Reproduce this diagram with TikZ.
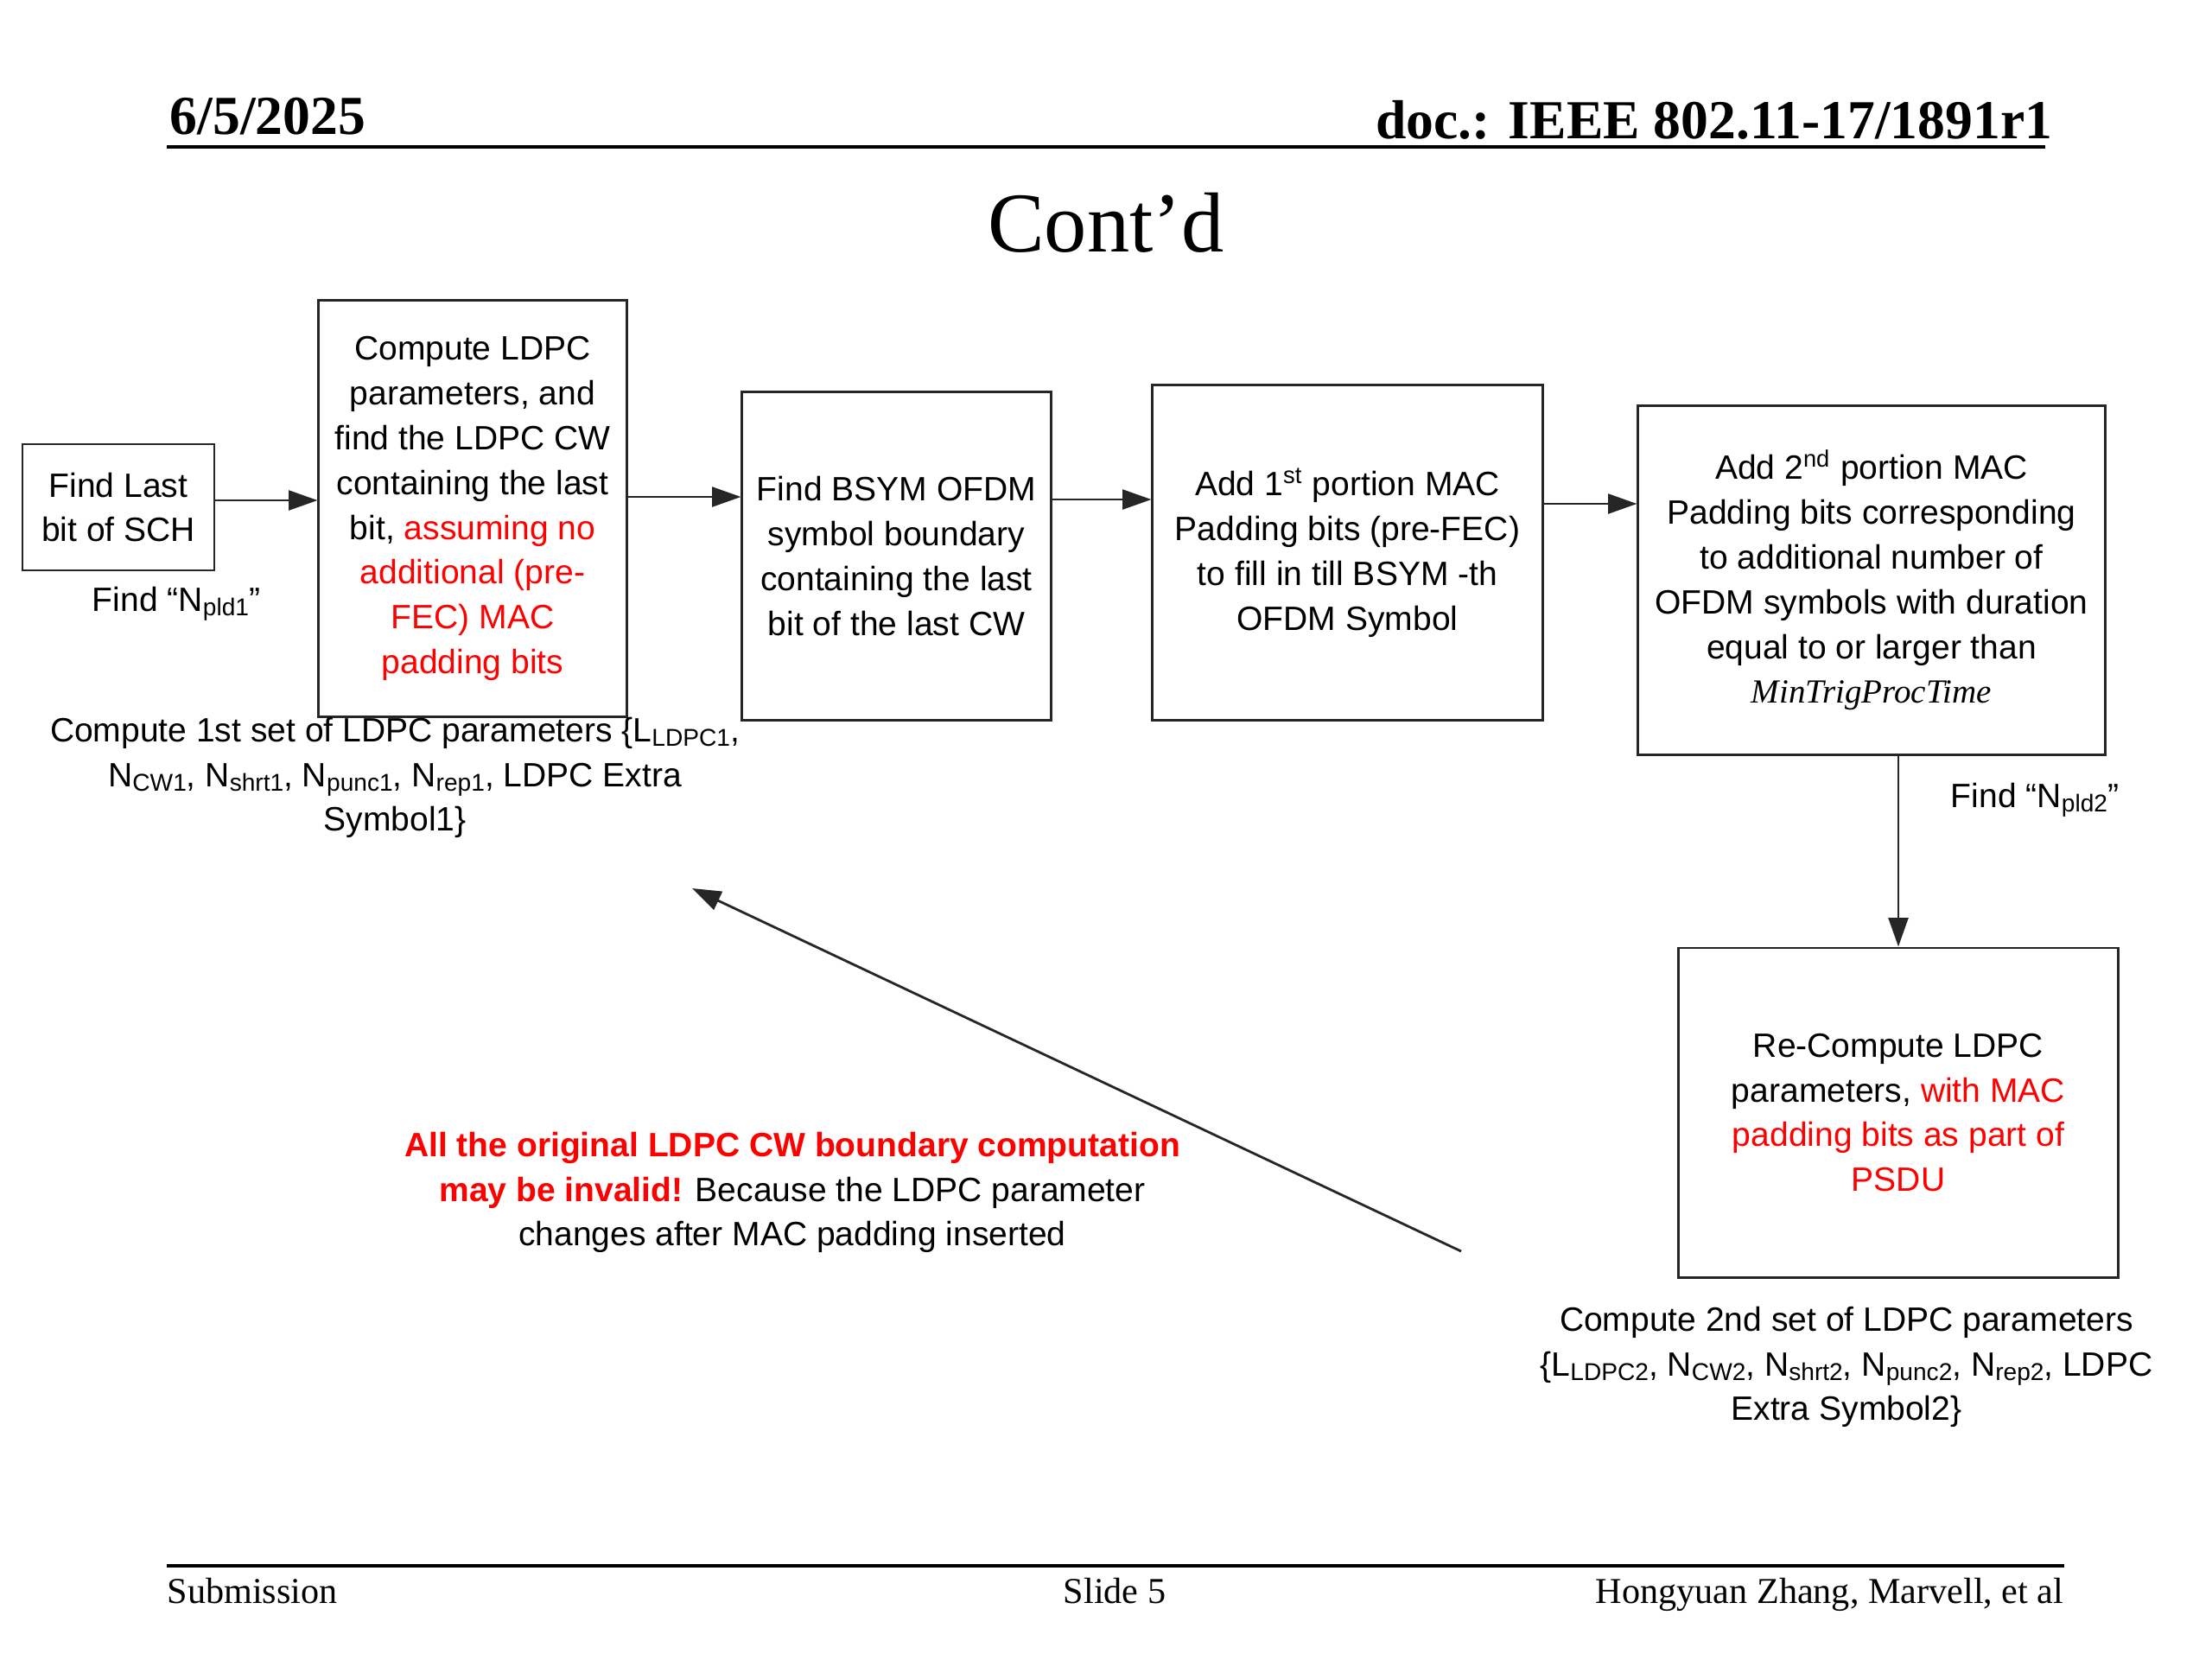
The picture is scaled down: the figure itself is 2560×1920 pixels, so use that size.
\documentclass[tikz,border=0pt]{standalone}
\usepackage{fontspec}
\setmainfont{Liberation Serif}
\newfontfamily\arial{Liberation Sans}
\usetikzlibrary{arrows.meta}
\newcommand\sbs[1]{\raisebox{-0.25ex}{\fontsize{8}{8}\selectfont #1}}
\definecolor{redtxt}{RGB}{255,0,0}
\begin{document}
\begin{tikzpicture}[x=0.01cm,y=-0.01cm,
  box/.style={draw=black!85, line width=0.8pt, rectangle, inner sep=0pt, align=center,
    font=\arial\fontsize{11.1}{14.75}\selectfont},
  lbl/.style={align=center, inner sep=0pt, font=\arial\fontsize{11.1}{14.75}\selectfont},
  arr/.style={draw=black!85, line width=0.8pt, -{Triangle[length=9.5pt,width=6.5pt]}},
  hdr/.style={inner sep=0pt, font=\fontsize{18.1}{20}\selectfont\bfseries},
  ftr/.style={inner sep=0pt, font=\fontsize{12}{14}\selectfont},
]
\useasboundingbox (0,0) rectangle (2560,1920);
\fill[white] (0,0) rectangle (2560,1920);

% header
\node[hdr, anchor=base west] (date) at (196,155) {6/5/2025};
\node[hdr, anchor=base east] (doc) at (2376,160) {doc.: IEEE 802.11-17/1891r1};
\draw[line width=1.1pt] (193,170) coordinate (hl) -- (2367,170) coordinate (hr);
\node[inner sep=0pt, anchor=base, font=\fontsize{28}{30}\selectfont] (title) at (1280,291) {Cont’d};

% footer
\draw[line width=1.1pt] (193,1812) coordinate (fl) -- (2389,1812) coordinate (fr);
\node[ftr, anchor=base west] (sub) at (193,1855) {Submission};
\node[ftr, anchor=base] (slide) at (1290,1855) {Slide 5};
\node[ftr, anchor=base east] (auth) at (2389,1855) {Hongyuan Zhang, Marvell, et al};

% boxes
\node[box, minimum width=2.22cm, minimum height=1.46cm] (A) at (137,587)
  {Find Last\\bit of SCH};
\node[box, minimum width=3.56cm, minimum height=4.81cm] (B) at (547,588.5)
  {Compute LDPC\\parameters, and\\find the LDPC CW\\containing the last\\bit, \textcolor{redtxt}{assuming no}\\\textcolor{redtxt}{additional (pre-}\\\textcolor{redtxt}{FEC) MAC}\\\textcolor{redtxt}{padding bits}};
\node[box, minimum width=3.57cm, minimum height=3.79cm] (C) at (1037.5,643.5)
  {Find BSYM OFDM\\symbol boundary\\containing the last\\bit of the last CW};
\node[box, minimum width=4.51cm, minimum height=3.87cm] (D) at (1559.5,639.5)
  {Add 1\textsuperscript{st} portion MAC\\Padding bits (pre-FEC)\\to fill in till BSYM -th\\OFDM Symbol};
\node[box, minimum width=5.40cm, minimum height=4.03cm] (E) at (2166,671.5)
  {Add 2\textsuperscript{nd} portion MAC\\Padding bits corresponding\\to additional number of\\OFDM symbols with duration\\equal to or larger than\\{\rmfamily\itshape MinTrigProcTime}};
\node[box, minimum width=5.08cm, minimum height=3.81cm] (F) at (2197,1287.5)
  {Re-Compute LDPC\\parameters, \textcolor{redtxt}{with MAC}\\\textcolor{redtxt}{padding bits as part of}\\\textcolor{redtxt}{PSDU}};

% labels
\node[lbl] (n1) at (204,699) {Find “N\sbs{pld1}”};
\node[lbl] (c1) at (457,900)
  {Compute 1st set of LDPC parameters \{L\sbs{LDPC1},\\N\sbs{CW1}, N\sbs{shrt1}, N\sbs{punc1}, N\sbs{rep1}, LDPC Extra\\Symbol1\}};
\node[lbl] (n2) at (2355,926) {Find “N\sbs{pld2}”};
\node[lbl] (c2) at (2137,1582)
  {Compute 2nd set of LDPC parameters\\\{L\sbs{LDPC2}, N\sbs{CW2}, N\sbs{shrt2}, N\sbs{punc2}, N\sbs{rep2}, LDPC\\Extra Symbol2\}};
\node[lbl] (warn) at (917,1380)
  {\textcolor{redtxt}{\bfseries All the original LDPC CW boundary computation}\\\textcolor{redtxt}{\bfseries may be invalid!} Because the LDPC parameter\\changes after MAC padding inserted};

% connectors
\draw[arr] (A.east |- 0,579) -- (B.west |- 0,579);
\draw[arr] (B.east |- 0,575) -- (C.west |- 0,575);
\draw[arr] (C.east |- 0,578) -- (D.west |- 0,578);
\draw[arr] (D.east |- 0,583) -- (E.west |- 0,583);
\draw[arr] (E.south -| F.north) -- (F.north);
\coordinate (dtail) at (1691,1448);
\coordinate (dhead) at (801,1028);
\draw[arr] (dtail) -- (dhead);
\end{tikzpicture}
\end{document}
